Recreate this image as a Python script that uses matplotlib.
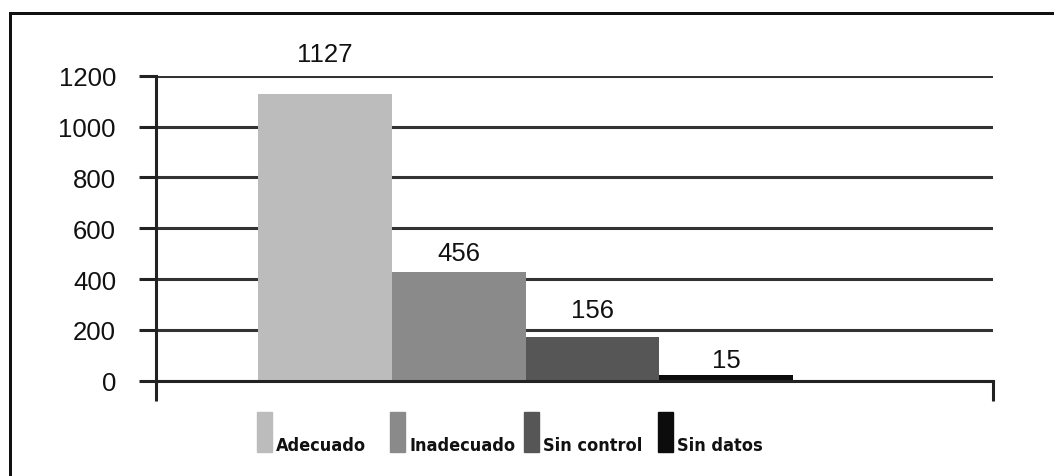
import matplotlib

matplotlib.use("Agg")
import matplotlib.pyplot as plt
import matplotlib.transforms as mtransforms
from matplotlib.lines import Line2D
from matplotlib.patches import Rectangle

# series (drawn heights) and the labels printed above them
categories = ["Adecuado", "Inadecuado", "Sin control", "Sin datos"]
heights = [1128, 429, 173, 22]
value_labels = ["1127", "456", "156", "15"]
yticks = [0, 200, 400, 600, 800, 1000, 1200]

colors = ["#bcbcbc", "#8a8a8a", "#565656", "#0c0c0c"]
label_offsets_px = [33, 12, 20, 8]  # gap between bar top and its label

W, H, DPI = 1054, 477, 100
PX = 72.0 / DPI  # pixels -> points

fig = plt.figure(figsize=(W / DPI, H / DPI), dpi=DPI)
ax = fig.add_axes([156 / W, (H - 381.7) / H, 837 / W, 305 / H])

x = list(range(len(categories)))
ax.bar(x, heights, width=1.0, align="edge", color=colors,
       edgecolor="none", zorder=3)

for xi, h, lab, off in zip(x, heights, value_labels, label_offsets_px):
    ax.annotate(lab, (xi + 0.5, h), xytext=(0, off * PX),
                textcoords="offset points", ha="center", va="baseline",
                fontsize=18.5, family="Liberation Sans", color="#111111")

ax.set_xlim(-0.763, 5.495)
ax.set_ylim(0, 1200)
ax.set_yticks(yticks)
ax.set_yticklabels([str(v) for v in yticks], fontsize=18.5,
                   family="Liberation Sans", color="#111111")
ax.yaxis.grid(True, color="#333333", linewidth=2.2, zorder=1)
ax.set_axisbelow(True)
ax.tick_params(axis="y", length=17 * PX, width=2.2, color="#222222",
               pad=23 * PX)
ax.set_xticks(ax.get_xlim())
ax.set_xticklabels([])
ax.tick_params(axis="x", length=20 * PX, width=2.2, color="#222222")

for side in ("top", "right"):
    ax.spines[side].set_visible(False)
for side in ("left", "bottom"):
    ax.spines[side].set_linewidth(2.2)
    ax.spines[side].set_color("#222222")
ax.spines["bottom"].set_zorder(4)

# legend drawn below the bars, aligned with each bar's left edge
trans = mtransforms.blended_transform_factory(ax.transData, fig.transFigure)
pw = 15 / 133.75
for xi, c, name in zip(x, colors, categories):
    ax.add_patch(Rectangle((xi - 0.01, (H - 453) / H), pw, 40 / H,
                           transform=trans, color=c, clip_on=False))
    ax.text(xi - 0.01 + pw + 4 / 133.75, (H - 451) / H, name,
            transform=trans, ha="left", va="baseline", fontsize=13,
            fontweight="bold", fontstretch="condensed",
            family=["DejaVu Sans"], color="#111111")

# frame fragment visible at the top and left of the picture
fig.add_artist(Line2D([10 / W, 1.0], [(H - 14) / H] * 2, color="#111111",
                      linewidth=3 * PX))
fig.add_artist(Line2D([10 / W] * 2, [0.0, (H - 14) / H], color="#111111",
                      linewidth=3 * PX))

fig.savefig("out.png", dpi=DPI)
